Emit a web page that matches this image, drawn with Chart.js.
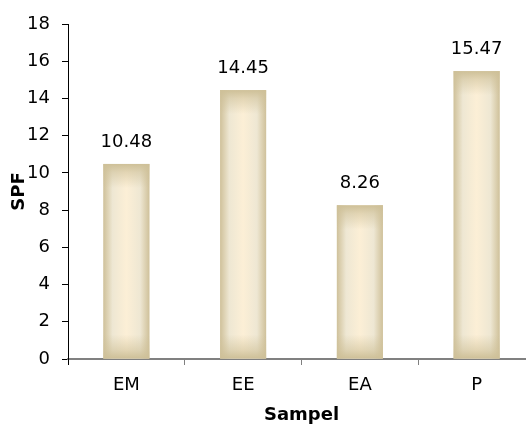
<!DOCTYPE html>
<html>
<head>
<meta charset="utf-8">
<script src="https://cdn.jsdelivr.net/npm/chart.js@4.4.1/dist/chart.umd.min.js"></script>
<style>
html,body{margin:0;padding:0;background:#fff;overflow:hidden;width:526px;height:426px;}
#wrap{width:545px;height:426px;}
</style>
</head>
<body>
<div id="wrap"><canvas id="c" width="545" height="426"></canvas></div>
<script>
const categories = ['EM', 'EE', 'EA', 'P'];
const spfValues = [10.48, 14.45, 8.26, 15.47];
const valueLabels = ['10.48', '14.45', '8.26', '15.47'];
const yTitle = 'SPF';
const xTitle = 'Sampel';

const FONT = '"DejaVu Sans", "Liberation Sans", Arial, sans-serif';

const barStyle = {
  id: 'barStyle',
  afterDatasetsDraw(chart) {
    const ctx = chart.ctx;
    const meta = chart.getDatasetMeta(0);
    meta.data.forEach((bar, i) => {
      const left = bar.x - bar.width / 2;
      const right = bar.x + bar.width / 2;
      const top = Math.min(bar.y, bar.base);
      const bottom = Math.max(bar.y, bar.base);
      const h = bottom - top;
      const w = right - left;
      ctx.save();
      const hg = ctx.createLinearGradient(left, 0, right, 0);
      hg.addColorStop(0, '#cfc19b');
      hg.addColorStop(0.1, '#dfd4b6');
      hg.addColorStop(0.2, '#eee7d3');
      hg.addColorStop(0.5, '#fcefd6');
      hg.addColorStop(0.8, '#eee7d3');
      hg.addColorStop(0.9, '#dfd4b6');
      hg.addColorStop(1, '#cfc19b');
      ctx.fillStyle = hg;
      ctx.fillRect(left, top, w, h);
      const vg = ctx.createLinearGradient(0, top, 0, bottom);
      const f = Math.min(0.45, 24 / h);
      vg.addColorStop(0, 'rgba(206,192,152,1)');
      vg.addColorStop(f * 0.35, 'rgba(206,192,152,0.55)');
      vg.addColorStop(f, 'rgba(206,192,152,0)');
      vg.addColorStop(1 - f, 'rgba(206,192,152,0)');
      vg.addColorStop(1 - f * 0.35, 'rgba(206,192,152,0.55)');
      vg.addColorStop(1, 'rgba(206,192,152,1)');
      ctx.fillStyle = vg;
      ctx.fillRect(left, top, w, h);
      ctx.fillStyle = '#000';
      ctx.font = '18px ' + FONT;
      ctx.textAlign = 'center';
      ctx.textBaseline = 'alphabetic';
      ctx.fillText(valueLabels[i], bar.x, top - 17);
      ctx.restore();
    });
  }
};

new Chart(document.getElementById('c'), {
  type: 'bar',
  data: {
    labels: categories,
    datasets: [{
      data: spfValues,
      backgroundColor: '#e6dcc0',
      borderWidth: 0,
      categoryPercentage: 1,
      barPercentage: 0.394
    }]
  },
  options: {
    responsive: false,
    animation: false,
    devicePixelRatio: 1,
    layout: { padding: { top: 24, right: 10, left: 0, bottom: 0 } },
    plugins: { legend: { display: false }, tooltip: { enabled: false } },
    scales: {
      x: {
        afterFit(scale) { scale.height = 67; },
        grid: {
          drawOnChartArea: false,
          offset: true,
          tickLength: 6,
          color: (c) => c.index === 0 ? '#000' : '#808080',
          lineWidth: 1
        },
        border: { display: true, color: '#808080', width: 2 },
        ticks: { color: '#000', font: { family: FONT, size: 18 }, padding: 10 },
        title: {
          display: true, text: xTitle, color: '#000',
          font: { family: FONT, size: 18, weight: 'bold' },
          padding: { top: 0, bottom: 0 }
        }
      },
      y: {
        min: 0, max: 18,
        afterFit(scale) { scale.width = 68; },
        grid: { drawOnChartArea: false, tickLength: 6, color: '#000', lineWidth: 1 },
        border: { display: true, color: '#000', width: 1 },
        ticks: { stepSize: 2, color: '#000', font: { family: FONT, size: 18 }, padding: 12 },
        title: {
          display: true, text: yTitle, color: '#000',
          font: { family: FONT, size: 18, weight: 'bold' },
          padding: { top: 9, bottom: 0 }
        }
      }
    }
  },
  plugins: [barStyle]
});
</script>
</body>
</html>
